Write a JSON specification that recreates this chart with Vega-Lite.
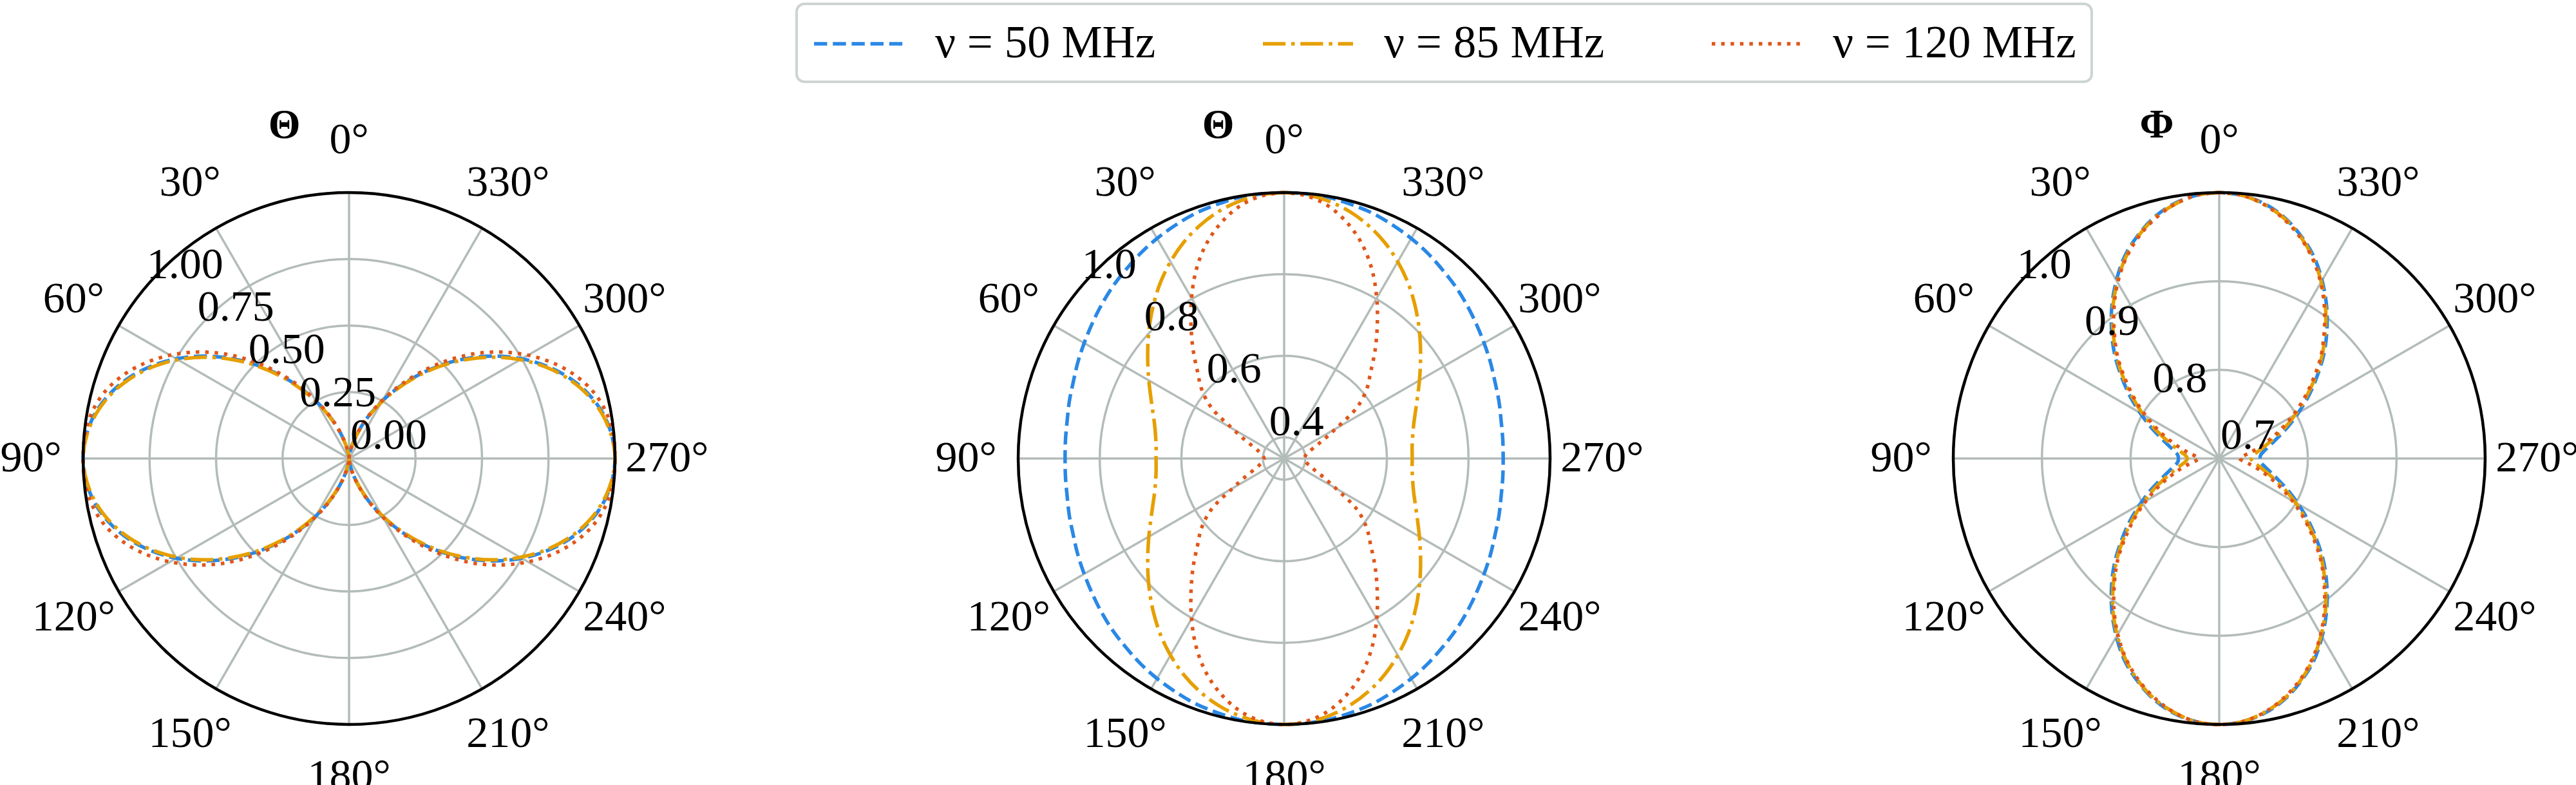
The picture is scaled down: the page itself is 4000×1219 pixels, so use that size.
{
  "$schema": "https://vega.github.io/schema/vega-lite/v6.json",
  "background": "white",
  "padding": {"left": 0, "top": 4, "right": 0, "bottom": 0},
  "bounds": "flush",
  "spacing": 452,
  "config": {"view": {"stroke": null}},
  "datasets": {
    "p1": [
      {"a":0,"b":0,"o":0,"d":0},{"a":5,"b":0.008,"o":0.007,"d":0.008},{"a":10,"b":0.03,"o":0.029,"d":0.031},{"a":15,"b":0.067,"o":0.065,"d":0.068},{"a":20,"b":0.117,"o":0.114,"d":0.119},{"a":25,"b":0.179,"o":0.175,"d":0.183},{"a":30,"b":0.25,"o":0.245,"d":0.256},{"a":35,"b":0.329,"o":0.323,"d":0.338},{"a":40,"b":0.413,"o":0.407,"d":0.428},{"a":45,"b":0.5,"o":0.494,"d":0.52},{"a":50,"b":0.587,"o":0.58,"d":0.612},{"a":55,"b":0.671,"o":0.664,"d":0.698},{"a":60,"b":0.75,"o":0.743,"d":0.777},{"a":65,"b":0.821,"o":0.815,"d":0.848},{"a":70,"b":0.883,"o":0.877,"d":0.908},{"a":75,"b":0.933,"o":0.928,"d":0.954},{"a":80,"b":0.97,"o":0.966,"d":0.983},{"a":85,"b":0.992,"o":0.99,"d":0.997},{"a":90,"b":1,"o":1,"d":1},
      {"a":95,"b":0.992,"o":0.99,"d":0.997},{"a":100,"b":0.97,"o":0.966,"d":0.983},{"a":105,"b":0.933,"o":0.928,"d":0.954},{"a":110,"b":0.883,"o":0.877,"d":0.908},{"a":115,"b":0.821,"o":0.815,"d":0.848},{"a":120,"b":0.75,"o":0.743,"d":0.777},{"a":125,"b":0.671,"o":0.664,"d":0.698},{"a":130,"b":0.587,"o":0.58,"d":0.612},{"a":135,"b":0.5,"o":0.494,"d":0.52},{"a":140,"b":0.413,"o":0.407,"d":0.428},{"a":145,"b":0.329,"o":0.323,"d":0.338},{"a":150,"b":0.25,"o":0.245,"d":0.256},{"a":155,"b":0.179,"o":0.175,"d":0.183},{"a":160,"b":0.117,"o":0.114,"d":0.119},{"a":165,"b":0.067,"o":0.065,"d":0.068},{"a":170,"b":0.03,"o":0.029,"d":0.031},{"a":175,"b":0.008,"o":0.007,"d":0.008},{"a":180,"b":0,"o":0,"d":0},
      {"a":185,"b":0.008,"o":0.007,"d":0.008},{"a":190,"b":0.03,"o":0.029,"d":0.031},{"a":195,"b":0.067,"o":0.065,"d":0.068},{"a":200,"b":0.117,"o":0.114,"d":0.119},{"a":205,"b":0.179,"o":0.175,"d":0.183},{"a":210,"b":0.25,"o":0.245,"d":0.256},{"a":215,"b":0.329,"o":0.323,"d":0.338},{"a":220,"b":0.413,"o":0.407,"d":0.428},{"a":225,"b":0.5,"o":0.494,"d":0.52},{"a":230,"b":0.587,"o":0.58,"d":0.612},{"a":235,"b":0.671,"o":0.664,"d":0.698},{"a":240,"b":0.75,"o":0.743,"d":0.777},{"a":245,"b":0.821,"o":0.815,"d":0.848},{"a":250,"b":0.883,"o":0.877,"d":0.908},{"a":255,"b":0.933,"o":0.928,"d":0.954},{"a":260,"b":0.97,"o":0.966,"d":0.983},{"a":265,"b":0.992,"o":0.99,"d":0.997},{"a":270,"b":1,"o":1,"d":1},
      {"a":275,"b":0.992,"o":0.99,"d":0.997},{"a":280,"b":0.97,"o":0.966,"d":0.983},{"a":285,"b":0.933,"o":0.928,"d":0.954},{"a":290,"b":0.883,"o":0.877,"d":0.908},{"a":295,"b":0.821,"o":0.815,"d":0.848},{"a":300,"b":0.75,"o":0.743,"d":0.777},{"a":305,"b":0.671,"o":0.664,"d":0.698},{"a":310,"b":0.587,"o":0.58,"d":0.612},{"a":315,"b":0.5,"o":0.494,"d":0.52},{"a":320,"b":0.413,"o":0.407,"d":0.428},{"a":325,"b":0.329,"o":0.323,"d":0.338},{"a":330,"b":0.25,"o":0.245,"d":0.256},{"a":335,"b":0.179,"o":0.175,"d":0.183},{"a":340,"b":0.117,"o":0.114,"d":0.119},{"a":345,"b":0.067,"o":0.065,"d":0.068},{"a":350,"b":0.03,"o":0.029,"d":0.031},{"a":355,"b":0.008,"o":0.007,"d":0.008},{"a":360,"b":0,"o":0,"d":0}
    ],
    "p2": [
      {"a":0,"b":1,"o":1,"d":1},{"a":5,"b":0.999,"o":0.997,"d":0.994},{"a":10,"b":0.997,"o":0.988,"d":0.976},{"a":15,"b":0.992,"o":0.974,"d":0.946},{"a":20,"b":0.987,"o":0.955,"d":0.907},{"a":25,"b":0.979,"o":0.932,"d":0.858},{"a":30,"b":0.971,"o":0.905,"d":0.802},{"a":35,"b":0.962,"o":0.876,"d":0.746},{"a":40,"b":0.952,"o":0.845,"d":0.695},{"a":45,"b":0.943,"o":0.814,"d":0.648},{"a":50,"b":0.933,"o":0.784,"d":0.612},{"a":55,"b":0.923,"o":0.756,"d":0.566},{"a":60,"b":0.914,"o":0.731,"d":0.494},{"a":65,"b":0.906,"o":0.709,"d":0.452},{"a":70,"b":0.898,"o":0.691,"d":0.425},{"a":75,"b":0.893,"o":0.677,"d":0.411},{"a":80,"b":0.888,"o":0.668,"d":0.403},{"a":85,"b":0.886,"o":0.663,"d":0.399},{"a":90,"b":0.885,"o":0.662,"d":0.397},
      {"a":95,"b":0.886,"o":0.663,"d":0.399},{"a":100,"b":0.888,"o":0.668,"d":0.403},{"a":105,"b":0.893,"o":0.677,"d":0.411},{"a":110,"b":0.898,"o":0.691,"d":0.425},{"a":115,"b":0.906,"o":0.709,"d":0.452},{"a":120,"b":0.914,"o":0.731,"d":0.494},{"a":125,"b":0.923,"o":0.756,"d":0.566},{"a":130,"b":0.933,"o":0.784,"d":0.612},{"a":135,"b":0.943,"o":0.814,"d":0.648},{"a":140,"b":0.952,"o":0.845,"d":0.695},{"a":145,"b":0.962,"o":0.876,"d":0.746},{"a":150,"b":0.971,"o":0.905,"d":0.802},{"a":155,"b":0.979,"o":0.932,"d":0.858},{"a":160,"b":0.987,"o":0.955,"d":0.907},{"a":165,"b":0.992,"o":0.974,"d":0.946},{"a":170,"b":0.997,"o":0.988,"d":0.976},{"a":175,"b":0.999,"o":0.997,"d":0.994},{"a":180,"b":1,"o":1,"d":1},
      {"a":185,"b":0.999,"o":0.997,"d":0.994},{"a":190,"b":0.997,"o":0.988,"d":0.976},{"a":195,"b":0.992,"o":0.974,"d":0.946},{"a":200,"b":0.987,"o":0.955,"d":0.907},{"a":205,"b":0.979,"o":0.932,"d":0.858},{"a":210,"b":0.971,"o":0.905,"d":0.802},{"a":215,"b":0.962,"o":0.876,"d":0.746},{"a":220,"b":0.952,"o":0.845,"d":0.695},{"a":225,"b":0.943,"o":0.814,"d":0.648},{"a":230,"b":0.933,"o":0.784,"d":0.612},{"a":235,"b":0.923,"o":0.756,"d":0.566},{"a":240,"b":0.914,"o":0.731,"d":0.494},{"a":245,"b":0.906,"o":0.709,"d":0.452},{"a":250,"b":0.898,"o":0.691,"d":0.425},{"a":255,"b":0.893,"o":0.677,"d":0.411},{"a":260,"b":0.888,"o":0.668,"d":0.403},{"a":265,"b":0.886,"o":0.663,"d":0.399},{"a":270,"b":0.885,"o":0.662,"d":0.397},
      {"a":275,"b":0.886,"o":0.663,"d":0.399},{"a":280,"b":0.888,"o":0.668,"d":0.403},{"a":285,"b":0.893,"o":0.677,"d":0.411},{"a":290,"b":0.898,"o":0.691,"d":0.425},{"a":295,"b":0.906,"o":0.709,"d":0.452},{"a":300,"b":0.914,"o":0.731,"d":0.494},{"a":305,"b":0.923,"o":0.756,"d":0.566},{"a":310,"b":0.933,"o":0.784,"d":0.612},{"a":315,"b":0.943,"o":0.814,"d":0.648},{"a":320,"b":0.952,"o":0.845,"d":0.695},{"a":325,"b":0.962,"o":0.876,"d":0.746},{"a":330,"b":0.971,"o":0.905,"d":0.802},{"a":335,"b":0.979,"o":0.932,"d":0.858},{"a":340,"b":0.987,"o":0.955,"d":0.907},{"a":345,"b":0.992,"o":0.974,"d":0.946},{"a":350,"b":0.997,"o":0.988,"d":0.976},{"a":355,"b":0.999,"o":0.997,"d":0.994},{"a":360,"b":1,"o":1,"d":1}
    ],
    "p3": [
      {"a":0,"b":1,"o":1,"d":1},{"a":5,"b":0.998,"o":0.998,"d":0.998},{"a":10,"b":0.992,"o":0.991,"d":0.991},{"a":15,"b":0.982,"o":0.981,"d":0.98},{"a":20,"b":0.968,"o":0.967,"d":0.966},{"a":25,"b":0.952,"o":0.95,"d":0.949},{"a":30,"b":0.932,"o":0.93,"d":0.929},{"a":35,"b":0.911,"o":0.909,"d":0.907},{"a":40,"b":0.889,"o":0.886,"d":0.884},{"a":45,"b":0.867,"o":0.864,"d":0.862},{"a":50,"b":0.844,"o":0.841,"d":0.838},{"a":55,"b":0.823,"o":0.819,"d":0.816},{"a":60,"b":0.803,"o":0.799,"d":0.795},{"a":65,"b":0.786,"o":0.781,"d":0.776},{"a":70,"b":0.771,"o":0.765,"d":0.759},{"a":75,"b":0.76,"o":0.753,"d":0.745},{"a":80,"b":0.752,"o":0.744,"d":0.734},{"a":85,"b":0.747,"o":0.738,"d":0.726},{"a":90,"b":0.746,"o":0.736,"d":0.723},
      {"a":95,"b":0.747,"o":0.738,"d":0.726},{"a":100,"b":0.752,"o":0.744,"d":0.734},{"a":105,"b":0.76,"o":0.753,"d":0.745},{"a":110,"b":0.771,"o":0.765,"d":0.759},{"a":115,"b":0.786,"o":0.781,"d":0.776},{"a":120,"b":0.803,"o":0.799,"d":0.795},{"a":125,"b":0.823,"o":0.819,"d":0.816},{"a":130,"b":0.844,"o":0.841,"d":0.838},{"a":135,"b":0.867,"o":0.864,"d":0.862},{"a":140,"b":0.889,"o":0.886,"d":0.884},{"a":145,"b":0.911,"o":0.909,"d":0.907},{"a":150,"b":0.932,"o":0.93,"d":0.929},{"a":155,"b":0.952,"o":0.95,"d":0.949},{"a":160,"b":0.968,"o":0.967,"d":0.966},{"a":165,"b":0.982,"o":0.981,"d":0.98},{"a":170,"b":0.992,"o":0.991,"d":0.991},{"a":175,"b":0.998,"o":0.998,"d":0.998},{"a":180,"b":1,"o":1,"d":1},
      {"a":185,"b":0.998,"o":0.998,"d":0.998},{"a":190,"b":0.992,"o":0.991,"d":0.991},{"a":195,"b":0.982,"o":0.981,"d":0.98},{"a":200,"b":0.968,"o":0.967,"d":0.966},{"a":205,"b":0.952,"o":0.95,"d":0.949},{"a":210,"b":0.932,"o":0.93,"d":0.929},{"a":215,"b":0.911,"o":0.909,"d":0.907},{"a":220,"b":0.889,"o":0.886,"d":0.884},{"a":225,"b":0.867,"o":0.864,"d":0.862},{"a":230,"b":0.844,"o":0.841,"d":0.838},{"a":235,"b":0.823,"o":0.819,"d":0.816},{"a":240,"b":0.803,"o":0.799,"d":0.795},{"a":245,"b":0.786,"o":0.781,"d":0.776},{"a":250,"b":0.771,"o":0.765,"d":0.759},{"a":255,"b":0.76,"o":0.753,"d":0.745},{"a":260,"b":0.752,"o":0.744,"d":0.734},{"a":265,"b":0.747,"o":0.738,"d":0.726},{"a":270,"b":0.746,"o":0.736,"d":0.723},
      {"a":275,"b":0.747,"o":0.738,"d":0.726},{"a":280,"b":0.752,"o":0.744,"d":0.734},{"a":285,"b":0.76,"o":0.753,"d":0.745},{"a":290,"b":0.771,"o":0.765,"d":0.759},{"a":295,"b":0.786,"o":0.781,"d":0.776},{"a":300,"b":0.803,"o":0.799,"d":0.795},{"a":305,"b":0.823,"o":0.819,"d":0.816},{"a":310,"b":0.844,"o":0.841,"d":0.838},{"a":315,"b":0.867,"o":0.864,"d":0.862},{"a":320,"b":0.889,"o":0.886,"d":0.884},{"a":325,"b":0.911,"o":0.909,"d":0.907},{"a":330,"b":0.932,"o":0.93,"d":0.929},{"a":335,"b":0.952,"o":0.95,"d":0.949},{"a":340,"b":0.968,"o":0.967,"d":0.966},{"a":345,"b":0.982,"o":0.981,"d":0.98},{"a":350,"b":0.992,"o":0.991,"d":0.991},{"a":355,"b":0.998,"o":0.998,"d":0.998},{"a":360,"b":1,"o":1,"d":1}
    ],
    "ticks1": [{"g":0,"t":"0.00"},{"g":0.25,"t":"0.25"},{"g":0.5,"t":"0.50"},{"g":0.75,"t":"0.75"},{"g":1,"t":"1.00"}],
    "ticks2": [{"g":0.4,"t":"0.4"},{"g":0.6,"t":"0.6"},{"g":0.8,"t":"0.8"},{"g":1,"t":"1.0"}],
    "ticks3": [{"g":0.7,"t":"0.7"},{"g":0.8,"t":"0.8"},{"g":0.9,"t":"0.9"},{"g":1,"t":"1.0"}],
    "angles": [{"a":0,"t":"0°"},{"a":30,"t":"30°"},{"a":60,"t":"60°"},{"a":90,"t":"90°"},{"a":120,"t":"120°"},{"a":150,"t":"150°"},{"a":180,"t":"180°"},{"a":210,"t":"210°"},{"a":240,"t":"240°"},{"a":270,"t":"270°"},{"a":300,"t":"300°"},{"a":330,"t":"330°"}],
    "outer": [{"g":1}]
  },
  "hconcat": [
    {
      "width": 1000, "height": 1000,
      "layer": [
        {"data": {"name": "ticks1"}, "transform": [{"calculate": "datum.g", "as": "rn"}],
         "mark": {"type": "arc", "filled": false, "stroke": "#b3bcb8", "strokeWidth": 3.5},
         "encoding": {"theta": {"value": 0}, "theta2": {"value": 6.2832}, "radius": {"field": "rn", "type": "quantitative", "stack": null, "scale": {"type": "linear", "domain": [0, 1.2107], "range": [0, 500]}}}},
        {"data": {"name": "angles"}, "transform": [{"calculate": "-sin(datum.a*PI/180)", "as": "sx"}, {"calculate": "cos(datum.a*PI/180)", "as": "sy"}, {"calculate": "0", "as": "z"}],
         "mark": {"type": "rule", "stroke": "#b3bcb8", "strokeWidth": 3.5},
         "encoding": {"x": {"field": "z", "type": "quantitative", "scale": {"domain": [-1.2107, 1.2107], "nice": false, "zero": false}, "axis": null}, "y": {"field": "z", "type": "quantitative", "scale": {"domain": [-1.2107, 1.2107], "nice": false, "zero": false}, "axis": null}, "x2": {"field": "sx"}, "y2": {"field": "sy"}}},
        {"data": {"name": "p1"}, "transform": [{"fold": ["b", "o", "d"], "as": ["key", "r"]}, {"calculate": "datum.r", "as": "rn"}, {"calculate": "-datum.rn*sin(datum.a*PI/180)", "as": "x"}, {"calculate": "datum.rn*cos(datum.a*PI/180)", "as": "y"}],
         "mark": {"type": "line", "strokeWidth": 5.5, "interpolate": "catmull-rom"},
         "encoding": {
           "x": {"field": "x", "type": "quantitative", "scale": {"domain": [-1.2107, 1.2107], "nice": false, "zero": false}, "axis": null},
           "y": {"field": "y", "type": "quantitative", "scale": {"domain": [-1.2107, 1.2107], "nice": false, "zero": false}, "axis": null},
           "order": {"field": "a", "type": "quantitative"},
           "color": {"field": "key", "type": "nominal", "scale": {"domain": ["b", "o", "d"], "range": ["#2a88e5", "#e69f00", "#e0561a"]},
             "legend": {"title": null, "orient": "none", "legendX": 1195, "legendY": -206, "direction": "horizontal", "columns": 3, "gridAlign": "none", "symbolType": "M-2,0H2", "symbolSize": 4900, "symbolOffset": 35, "symbolStrokeWidth": 5.5, "labelFontSize": 71, "labelFont": "Liberation Serif", "labelColor": "black", "labelLimit": 1000, "labelOffset": 80, "columnPadding": 155, "padding": 24, "strokeColor": "#cdd5d2", "fillColor": "white", "cornerRadius": 12, "labelExpr": "datum.label == 'b' ? 'ν = 50 MHz' : (datum.label == 'o' ? 'ν = 85 MHz' : 'ν = 120 MHz')", "encode": {"legend": {"update": {"strokeWidth": {"value": 4}}}}}},
           "strokeDash": {"field": "key", "type": "nominal", "scale": {"domain": ["b", "o", "d"], "range": [[20.4, 8.8], [35.2, 8.8, 5.5, 8.8], [5.5, 9.1]]},
             "legend": {"title": null, "orient": "none", "legendX": 1195, "legendY": -206, "direction": "horizontal", "columns": 3, "gridAlign": "none", "symbolType": "M-2,0H2", "symbolSize": 4900, "symbolOffset": 35, "symbolStrokeWidth": 5.5, "labelFontSize": 71, "labelFont": "Liberation Serif", "labelColor": "black", "labelLimit": 1000, "labelOffset": 80, "columnPadding": 155, "padding": 24, "strokeColor": "#cdd5d2", "fillColor": "white", "cornerRadius": 12, "labelExpr": "datum.label == 'b' ? 'ν = 50 MHz' : (datum.label == 'o' ? 'ν = 85 MHz' : 'ν = 120 MHz')", "encode": {"legend": {"update": {"strokeWidth": {"value": 4}}}}}}
         }},
        {"data": {"name": "outer"}, "transform": [{"calculate": "datum.g", "as": "rn"}],
         "mark": {"type": "arc", "filled": false, "stroke": "black", "strokeWidth": 4.5},
         "encoding": {"theta": {"value": 0}, "theta2": {"value": 6.2832}, "radius": {"field": "rn", "type": "quantitative", "stack": null, "scale": {"type": "linear", "domain": [0, 1.2107], "range": [0, 500]}}}},
        {"data": {"name": "angles"}, "transform": [{"calculate": "-1.196*sin(datum.a*PI/180)", "as": "x"}, {"calculate": "1.196*cos(datum.a*PI/180)", "as": "y"}],
         "mark": {"type": "text", "align": "center", "baseline": "middle", "fontSize": 68, "font": "Liberation Serif", "color": "black"},
         "encoding": {"x": {"field": "x", "type": "quantitative", "scale": {"domain": [-1.2107, 1.2107], "nice": false, "zero": false}, "axis": null}, "y": {"field": "y", "type": "quantitative", "scale": {"domain": [-1.2107, 1.2107], "nice": false, "zero": false}, "axis": null}, "text": {"field": "t"}}},
        {"data": {"name": "ticks1"}, "transform": [{"calculate": "datum.g", "as": "rn"}, {"calculate": "-datum.rn*sin(50*PI/180)", "as": "x"}, {"calculate": "datum.rn*cos(50*PI/180)", "as": "y"}],
         "mark": {"type": "text", "align": "left", "baseline": "alphabetic", "dx": 2, "dy": -15, "fontSize": 68, "font": "Liberation Serif", "color": "black"},
         "encoding": {"x": {"field": "x", "type": "quantitative", "scale": {"domain": [-1.2107, 1.2107], "nice": false, "zero": false}, "axis": null}, "y": {"field": "y", "type": "quantitative", "scale": {"domain": [-1.2107, 1.2107], "nice": false, "zero": false}, "axis": null}, "text": {"field": "t"}}},
        {"data": {"values": [{"t": "Θ"}]},
         "mark": {"type": "text", "align": "center", "baseline": "middle", "fontSize": 64, "fontWeight": "bold", "font": "Liberation Serif", "color": "black"},
         "encoding": {"x": {"datum": -0.243, "type": "quantitative", "scale": {"domain": [-1.2107, 1.2107], "nice": false, "zero": false}, "axis": null}, "y": {"datum": 1.252, "type": "quantitative", "scale": {"domain": [-1.2107, 1.2107], "nice": false, "zero": false}, "axis": null}, "text": {"field": "t"}}}
      ]
    },
    {
      "width": 1000, "height": 1000,
      "layer": [
        {"data": {"name": "ticks2"}, "transform": [{"calculate": "(datum.g - 0.348)/0.652", "as": "rn"}],
         "mark": {"type": "arc", "filled": false, "stroke": "#b3bcb8", "strokeWidth": 3.5},
         "encoding": {"theta": {"value": 0}, "theta2": {"value": 6.2832}, "radius": {"field": "rn", "type": "quantitative", "stack": null, "scale": {"type": "linear", "domain": [0, 1.2107], "range": [0, 500]}}}},
        {"data": {"name": "angles"}, "transform": [{"calculate": "-sin(datum.a*PI/180)", "as": "sx"}, {"calculate": "cos(datum.a*PI/180)", "as": "sy"}, {"calculate": "0", "as": "z"}],
         "mark": {"type": "rule", "stroke": "#b3bcb8", "strokeWidth": 3.5},
         "encoding": {"x": {"field": "z", "type": "quantitative", "scale": {"domain": [-1.2107, 1.2107], "nice": false, "zero": false}, "axis": null}, "y": {"field": "z", "type": "quantitative", "scale": {"domain": [-1.2107, 1.2107], "nice": false, "zero": false}, "axis": null}, "x2": {"field": "sx"}, "y2": {"field": "sy"}}},
        {"data": {"name": "p2"}, "transform": [{"fold": ["b", "o", "d"], "as": ["key", "r"]}, {"calculate": "(datum.r - 0.348)/0.652", "as": "rn"}, {"calculate": "-datum.rn*sin(datum.a*PI/180)", "as": "x"}, {"calculate": "datum.rn*cos(datum.a*PI/180)", "as": "y"}],
         "mark": {"type": "line", "strokeWidth": 5.5, "interpolate": "catmull-rom"},
         "encoding": {
           "x": {"field": "x", "type": "quantitative", "scale": {"domain": [-1.2107, 1.2107], "nice": false, "zero": false}, "axis": null},
           "y": {"field": "y", "type": "quantitative", "scale": {"domain": [-1.2107, 1.2107], "nice": false, "zero": false}, "axis": null},
           "order": {"field": "a", "type": "quantitative"},
           "color": {"field": "key", "type": "nominal", "scale": {"domain": ["b", "o", "d"], "range": ["#2a88e5", "#e69f00", "#e0561a"]},
             "legend": {"title": null, "orient": "none", "legendX": 1195, "legendY": -206, "direction": "horizontal", "columns": 3, "gridAlign": "none", "symbolType": "M-2,0H2", "symbolSize": 4900, "symbolOffset": 35, "symbolStrokeWidth": 5.5, "labelFontSize": 71, "labelFont": "Liberation Serif", "labelColor": "black", "labelLimit": 1000, "labelOffset": 80, "columnPadding": 155, "padding": 24, "strokeColor": "#cdd5d2", "fillColor": "white", "cornerRadius": 12, "labelExpr": "datum.label == 'b' ? 'ν = 50 MHz' : (datum.label == 'o' ? 'ν = 85 MHz' : 'ν = 120 MHz')", "encode": {"legend": {"update": {"strokeWidth": {"value": 4}}}}}},
           "strokeDash": {"field": "key", "type": "nominal", "scale": {"domain": ["b", "o", "d"], "range": [[20.4, 8.8], [35.2, 8.8, 5.5, 8.8], [5.5, 9.1]]},
             "legend": {"title": null, "orient": "none", "legendX": 1195, "legendY": -206, "direction": "horizontal", "columns": 3, "gridAlign": "none", "symbolType": "M-2,0H2", "symbolSize": 4900, "symbolOffset": 35, "symbolStrokeWidth": 5.5, "labelFontSize": 71, "labelFont": "Liberation Serif", "labelColor": "black", "labelLimit": 1000, "labelOffset": 80, "columnPadding": 155, "padding": 24, "strokeColor": "#cdd5d2", "fillColor": "white", "cornerRadius": 12, "labelExpr": "datum.label == 'b' ? 'ν = 50 MHz' : (datum.label == 'o' ? 'ν = 85 MHz' : 'ν = 120 MHz')", "encode": {"legend": {"update": {"strokeWidth": {"value": 4}}}}}}
         }},
        {"data": {"name": "outer"}, "transform": [{"calculate": "datum.g", "as": "rn"}],
         "mark": {"type": "arc", "filled": false, "stroke": "black", "strokeWidth": 4.5},
         "encoding": {"theta": {"value": 0}, "theta2": {"value": 6.2832}, "radius": {"field": "rn", "type": "quantitative", "stack": null, "scale": {"type": "linear", "domain": [0, 1.2107], "range": [0, 500]}}}},
        {"data": {"name": "angles"}, "transform": [{"calculate": "-1.196*sin(datum.a*PI/180)", "as": "x"}, {"calculate": "1.196*cos(datum.a*PI/180)", "as": "y"}],
         "mark": {"type": "text", "align": "center", "baseline": "middle", "fontSize": 68, "font": "Liberation Serif", "color": "black"},
         "encoding": {"x": {"field": "x", "type": "quantitative", "scale": {"domain": [-1.2107, 1.2107], "nice": false, "zero": false}, "axis": null}, "y": {"field": "y", "type": "quantitative", "scale": {"domain": [-1.2107, 1.2107], "nice": false, "zero": false}, "axis": null}, "text": {"field": "t"}}},
        {"data": {"name": "ticks2"}, "transform": [{"calculate": "(datum.g - 0.348)/0.652", "as": "rn"}, {"calculate": "-datum.rn*sin(50*PI/180)", "as": "x"}, {"calculate": "datum.rn*cos(50*PI/180)", "as": "y"}],
         "mark": {"type": "text", "align": "left", "baseline": "alphabetic", "dx": 2, "dy": -15, "fontSize": 68, "font": "Liberation Serif", "color": "black"},
         "encoding": {"x": {"field": "x", "type": "quantitative", "scale": {"domain": [-1.2107, 1.2107], "nice": false, "zero": false}, "axis": null}, "y": {"field": "y", "type": "quantitative", "scale": {"domain": [-1.2107, 1.2107], "nice": false, "zero": false}, "axis": null}, "text": {"field": "t"}}},
        {"data": {"values": [{"t": "Θ"}]},
         "mark": {"type": "text", "align": "center", "baseline": "middle", "fontSize": 64, "fontWeight": "bold", "font": "Liberation Serif", "color": "black"},
         "encoding": {"x": {"datum": -0.248, "type": "quantitative", "scale": {"domain": [-1.2107, 1.2107], "nice": false, "zero": false}, "axis": null}, "y": {"datum": 1.252, "type": "quantitative", "scale": {"domain": [-1.2107, 1.2107], "nice": false, "zero": false}, "axis": null}, "text": {"field": "t"}}}
      ]
    },
    {
      "width": 1000, "height": 1000,
      "layer": [
        {"data": {"name": "ticks3"}, "transform": [{"calculate": "(datum.g - 0.7)/0.3", "as": "rn"}],
         "mark": {"type": "arc", "filled": false, "stroke": "#b3bcb8", "strokeWidth": 3.5},
         "encoding": {"theta": {"value": 0}, "theta2": {"value": 6.2832}, "radius": {"field": "rn", "type": "quantitative", "stack": null, "scale": {"type": "linear", "domain": [0, 1.2107], "range": [0, 500]}}}},
        {"data": {"name": "angles"}, "transform": [{"calculate": "-sin(datum.a*PI/180)", "as": "sx"}, {"calculate": "cos(datum.a*PI/180)", "as": "sy"}, {"calculate": "0", "as": "z"}],
         "mark": {"type": "rule", "stroke": "#b3bcb8", "strokeWidth": 3.5},
         "encoding": {"x": {"field": "z", "type": "quantitative", "scale": {"domain": [-1.2107, 1.2107], "nice": false, "zero": false}, "axis": null}, "y": {"field": "z", "type": "quantitative", "scale": {"domain": [-1.2107, 1.2107], "nice": false, "zero": false}, "axis": null}, "x2": {"field": "sx"}, "y2": {"field": "sy"}}},
        {"data": {"name": "p3"}, "transform": [{"fold": ["b", "o", "d"], "as": ["key", "r"]}, {"calculate": "(datum.r - 0.7)/0.3", "as": "rn"}, {"calculate": "-datum.rn*sin(datum.a*PI/180)", "as": "x"}, {"calculate": "datum.rn*cos(datum.a*PI/180)", "as": "y"}],
         "mark": {"type": "line", "strokeWidth": 5.5, "interpolate": "catmull-rom"},
         "encoding": {
           "x": {"field": "x", "type": "quantitative", "scale": {"domain": [-1.2107, 1.2107], "nice": false, "zero": false}, "axis": null},
           "y": {"field": "y", "type": "quantitative", "scale": {"domain": [-1.2107, 1.2107], "nice": false, "zero": false}, "axis": null},
           "order": {"field": "a", "type": "quantitative"},
           "color": {"field": "key", "type": "nominal", "scale": {"domain": ["b", "o", "d"], "range": ["#2a88e5", "#e69f00", "#e0561a"]},
             "legend": {"title": null, "orient": "none", "legendX": 1195, "legendY": -206, "direction": "horizontal", "columns": 3, "gridAlign": "none", "symbolType": "M-2,0H2", "symbolSize": 4900, "symbolOffset": 35, "symbolStrokeWidth": 5.5, "labelFontSize": 71, "labelFont": "Liberation Serif", "labelColor": "black", "labelLimit": 1000, "labelOffset": 80, "columnPadding": 155, "padding": 24, "strokeColor": "#cdd5d2", "fillColor": "white", "cornerRadius": 12, "labelExpr": "datum.label == 'b' ? 'ν = 50 MHz' : (datum.label == 'o' ? 'ν = 85 MHz' : 'ν = 120 MHz')", "encode": {"legend": {"update": {"strokeWidth": {"value": 4}}}}}},
           "strokeDash": {"field": "key", "type": "nominal", "scale": {"domain": ["b", "o", "d"], "range": [[20.4, 8.8], [35.2, 8.8, 5.5, 8.8], [5.5, 9.1]]},
             "legend": {"title": null, "orient": "none", "legendX": 1195, "legendY": -206, "direction": "horizontal", "columns": 3, "gridAlign": "none", "symbolType": "M-2,0H2", "symbolSize": 4900, "symbolOffset": 35, "symbolStrokeWidth": 5.5, "labelFontSize": 71, "labelFont": "Liberation Serif", "labelColor": "black", "labelLimit": 1000, "labelOffset": 80, "columnPadding": 155, "padding": 24, "strokeColor": "#cdd5d2", "fillColor": "white", "cornerRadius": 12, "labelExpr": "datum.label == 'b' ? 'ν = 50 MHz' : (datum.label == 'o' ? 'ν = 85 MHz' : 'ν = 120 MHz')", "encode": {"legend": {"update": {"strokeWidth": {"value": 4}}}}}}
         }},
        {"data": {"name": "outer"}, "transform": [{"calculate": "datum.g", "as": "rn"}],
         "mark": {"type": "arc", "filled": false, "stroke": "black", "strokeWidth": 4.5},
         "encoding": {"theta": {"value": 0}, "theta2": {"value": 6.2832}, "radius": {"field": "rn", "type": "quantitative", "stack": null, "scale": {"type": "linear", "domain": [0, 1.2107], "range": [0, 500]}}}},
        {"data": {"name": "angles"}, "transform": [{"calculate": "-1.196*sin(datum.a*PI/180)", "as": "x"}, {"calculate": "1.196*cos(datum.a*PI/180)", "as": "y"}],
         "mark": {"type": "text", "align": "center", "baseline": "middle", "fontSize": 68, "font": "Liberation Serif", "color": "black"},
         "encoding": {"x": {"field": "x", "type": "quantitative", "scale": {"domain": [-1.2107, 1.2107], "nice": false, "zero": false}, "axis": null}, "y": {"field": "y", "type": "quantitative", "scale": {"domain": [-1.2107, 1.2107], "nice": false, "zero": false}, "axis": null}, "text": {"field": "t"}}},
        {"data": {"name": "ticks3"}, "transform": [{"calculate": "(datum.g - 0.7)/0.3", "as": "rn"}, {"calculate": "-datum.rn*sin(50*PI/180)", "as": "x"}, {"calculate": "datum.rn*cos(50*PI/180)", "as": "y"}],
         "mark": {"type": "text", "align": "left", "baseline": "alphabetic", "dx": 2, "dy": -15, "fontSize": 68, "font": "Liberation Serif", "color": "black"},
         "encoding": {"x": {"field": "x", "type": "quantitative", "scale": {"domain": [-1.2107, 1.2107], "nice": false, "zero": false}, "axis": null}, "y": {"field": "y", "type": "quantitative", "scale": {"domain": [-1.2107, 1.2107], "nice": false, "zero": false}, "axis": null}, "text": {"field": "t"}}},
        {"data": {"values": [{"t": "Φ"}]},
         "mark": {"type": "text", "align": "center", "baseline": "middle", "fontSize": 64, "fontWeight": "bold", "font": "Liberation Serif", "color": "black"},
         "encoding": {"x": {"datum": -0.235, "type": "quantitative", "scale": {"domain": [-1.2107, 1.2107], "nice": false, "zero": false}, "axis": null}, "y": {"datum": 1.252, "type": "quantitative", "scale": {"domain": [-1.2107, 1.2107], "nice": false, "zero": false}, "axis": null}, "text": {"field": "t"}}}
      ]
    }
  ]
}
